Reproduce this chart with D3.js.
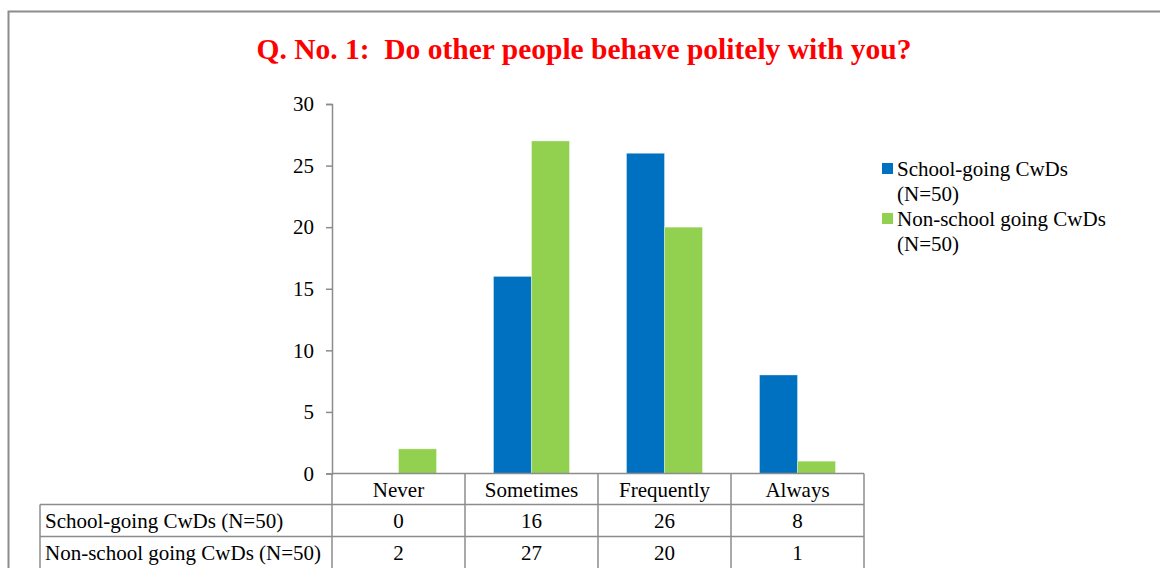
<!DOCTYPE html>
<html>
<head>
<meta charset="utf-8">
<script src="https://cdn.jsdelivr.net/npm/d3@7"></script>
<style>
  html, body { margin: 0; padding: 0; background: #fff; }
  svg { display: block; }
  text { font-family: "Liberation Serif", "Times New Roman", serif; fill: #000; }
</style>
</head>
<body>
<svg id="chart" width="1160" height="568"></svg>
<script>
// Survey responses
const categories = ["Never", "Sometimes", "Frequently", "Always"];
const seriesNames = ["School-going CwDs (N=50)", "Non-school going CwDs (N=50)"];
const legendLines = [["School-going CwDs", "(N=50)"], ["Non-school going CwDs", "(N=50)"]];
const schoolGoing = [0, 16, 26, 8];
const nonSchoolGoing = [2, 27, 20, 1];
const yTicks = [0, 5, 10, 15, 20, 25, 30];
const titleText = "Q. No. 1:  Do other people behave politely with you?";

const series = [schoolGoing, nonSchoolGoing];
const colors = ["#0070C0", "#92D050"];
const axisColor = "#8c8c8c";
const fontSize = "21px";

const svg = d3.select("#chart");

// Outer frame
svg.append("rect")
  .attr("x", 8.5).attr("y", 11.5)
  .attr("width", 1200).attr("height", 600)
  .attr("fill", "none").attr("stroke", axisColor).attr("stroke-width", 2);

// Title
svg.append("text")
  .attr("x", 584).attr("y", 59)
  .attr("text-anchor", "middle")
  .style("font-size", "29.5px").style("font-weight", "bold")
  .style("fill", "#ff0000")
  .attr("xml:space", "preserve")
  .text(titleText);

const plot = { left: 332, right: 864, top: 104, bottom: 473.5 };

const x = d3.scaleBand().domain(categories).range([plot.left, plot.right]);
const xs = d3.scaleBand().domain(d3.range(series.length))
  .range([x.bandwidth() / 2 - 38, x.bandwidth() / 2 + 38]);
const y = d3.scaleLinear().domain([0, 30]).range([plot.bottom, plot.top]);

// Y axis
const yAxis = svg.append("g")
  .attr("transform", `translate(${plot.left},0)`)
  .call(d3.axisLeft(y).tickValues(yTicks).tickSize(6).tickPadding(12).tickFormat(d3.format("d")));
yAxis.select(".domain").attr("stroke", axisColor).attr("stroke-width", 1.5);
yAxis.selectAll(".tick line").attr("stroke", axisColor).attr("stroke-width", 1.5);
yAxis.selectAll(".tick text")
  .style("font-family", '"Liberation Serif", "Times New Roman", serif')
  .style("font-size", fontSize).attr("fill", "#000");

// Bars
series.forEach((vals, si) => {
  svg.append("g").selectAll("rect")
    .data(categories.map((c, i) => ({ c, v: vals[i] })))
    .join("rect")
    .attr("x", d => x(d.c) + xs(si))
    .attr("width", xs.bandwidth())
    .attr("y", d => y(d.v))
    .attr("height", d => y(0) - y(d.v))
    .attr("fill", colors[si])
    .attr("stroke", "rgba(255,255,255,0.35)")
    .attr("stroke-width", 1);
});

// Data table beneath the plot
const table = { left: 40, rowH: [31, 32, 34] };
const rowTop = [plot.bottom, plot.bottom + table.rowH[0], plot.bottom + table.rowH[0] + table.rowH[1]];
const tableBottom = rowTop[2] + table.rowH[2];
const tg = svg.append("g").attr("stroke", axisColor).attr("stroke-width", 1.5).attr("fill", "none");

// horizontal lines
tg.append("line").attr("x1", plot.left).attr("x2", plot.right).attr("y1", rowTop[0]).attr("y2", rowTop[0]);
[rowTop[1], rowTop[2], tableBottom].forEach(yy =>
  tg.append("line").attr("x1", table.left).attr("x2", plot.right).attr("y1", yy).attr("y2", yy));
// vertical lines
tg.append("line").attr("x1", table.left).attr("x2", table.left).attr("y1", rowTop[1]).attr("y2", tableBottom);
categories.forEach(c => {
  tg.append("line").attr("x1", x(c)).attr("x2", x(c)).attr("y1", rowTop[0]).attr("y2", tableBottom);
});
tg.append("line").attr("x1", plot.right).attr("x2", plot.right).attr("y1", rowTop[0]).attr("y2", tableBottom);

// category labels
svg.append("g").selectAll("text").data(categories).join("text")
  .attr("x", d => x(d) + x.bandwidth() / 2)
  .attr("y", rowTop[0] + 23)
  .attr("text-anchor", "middle")
  .style("font-size", fontSize)
  .text(d => d);

// series rows
series.forEach((vals, si) => {
  const base = rowTop[si + 1] + 23.5;
  svg.append("text").attr("x", table.left + 5).attr("y", base)
    .style("font-size", fontSize).text(seriesNames[si]);
  svg.append("g").selectAll("text").data(vals).join("text")
    .attr("x", (d, i) => x(categories[i]) + x.bandwidth() / 2)
    .attr("y", base)
    .attr("text-anchor", "middle")
    .style("font-size", fontSize)
    .text(d => d);
});

// Legend
const legend = svg.append("g").attr("transform", "translate(882,0)");
legendLines.forEach((lines, si) => {
  const top = 163 + si * 50;
  legend.append("rect").attr("x", 0).attr("y", top).attr("width", 11).attr("height", 11).attr("fill", colors[si]);
  lines.forEach((ln, li) => {
    legend.append("text").attr("x", 15).attr("y", top + 13 + li * 25)
      .style("font-size", fontSize).text(ln);
  });
});
</script>
</body>
</html>
